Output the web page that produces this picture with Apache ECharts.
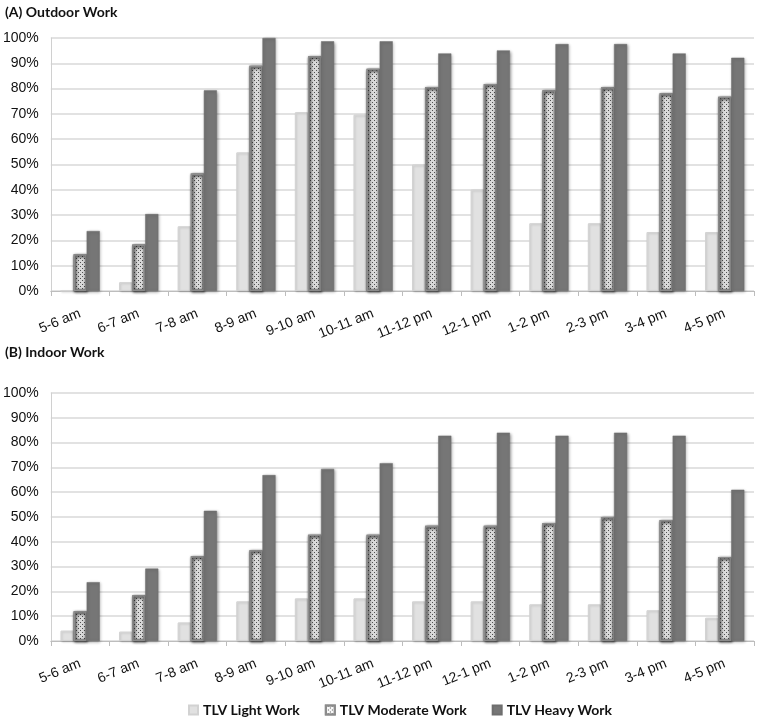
<!DOCTYPE html>
<html>
<head>
<meta charset="utf-8">
<style>html,body{margin:0;padding:0;background:#fff;}#c{width:757px;height:718px;}</style>
<script src="https://cdn.jsdelivr.net/npm/echarts@6/dist/echarts.min.js"></script>
</head>
<body>
<div id="c"></div>
<script>
const categories = ['5-6 am','6-7 am','7-8 am','8-9 am','9-10 am','10-11 am','11-12 pm','12-1 pm','1-2 pm','2-3 pm','3-4 pm','4-5 pm'];
const seriesNames = ['TLV Light Work','TLV Moderate Work','TLV Heavy Work'];
const yTicks = [0,10,20,30,40,50,60,70,80,90,100];
// (A) Outdoor Work, percent
const outdoorLight    = [0, 3.5, 25.6, 54.8, 70.7, 69.7, 50.0, 40.1, 26.8, 26.8, 23.3, 23.3];
const outdoorModerate = [14.5, 18.4, 46.4, 89.0, 92.8, 87.8, 80.6, 81.8, 79.3, 80.5, 78.2, 76.8];
const outdoorHeavy    = [23.7, 30.4, 79.3, 100, 98.7, 98.7, 93.9, 95.1, 97.6, 97.6, 93.9, 92.2];
// (B) Indoor Work, percent
const indoorLight     = [4.2, 3.8, 7.5, 16.0, 17.2, 17.2, 16.0, 16.0, 14.8, 14.8, 12.4, 9.4];
const indoorModerate  = [12.0, 18.4, 34.2, 36.6, 42.8, 42.8, 46.5, 46.5, 47.6, 50.0, 48.8, 33.9];
const indoorHeavy     = [23.7, 29.2, 52.5, 66.9, 69.4, 71.7, 82.8, 84.0, 82.8, 84.0, 82.8, 61.0];

const styles = [
  {color:'#e1e1e1', borderColor:'#d2d2d2', borderWidth:1,
   shadowBlur:2, shadowColor:'rgba(0,0,0,0.15)', shadowOffsetX:1, shadowOffsetY:1},
  {color:'#f8f8f8', borderColor:'#8c8c8c', borderWidth:1.5,
   shadowBlur:3, shadowColor:'rgba(0,0,0,0.35)', shadowOffsetX:1, shadowOffsetY:1,
   decal:{symbol:'rect', symbolSize:1, color:'#505050',
          dashArrayX:[[1,3],[0,2,1,1]], dashArrayY:[1,1]}},
  {color:'#767676', borderColor:'#6e6e6e', borderWidth:0.5,
   shadowBlur:3, shadowColor:'rgba(0,0,0,0.35)', shadowOffsetX:1, shadowOffsetY:1}
];

function xAxis(gi){
  return {type:'category', gridIndex:gi, data:categories,
    axisLine:{show:true, lineStyle:{color:'#bdbdbd', width:1}},
    axisTick:{show:true, length:5, lineStyle:{color:'#bdbdbd'}},
    axisLabel:{rotate:22, margin:22, fontSize:14, color:'#111', fontFamily:'Liberation Sans'}};
}
function yAxis(gi){
  return {type:'value', gridIndex:gi, min:0, max:100, interval:10,
    axisLine:{show:true, lineStyle:{color:'#d0d0d0', width:1}},
    axisTick:{show:false},
    splitLine:{lineStyle:{color:'#d9d9d9', width:1.5}},
    axisLabel:{formatter:v=>yTicks.includes(v)?v+'%':'', margin:12, fontSize:14, color:'#111', fontFamily:'Liberation Sans'}};
}
function mk(name, data, gi, i){
  return {type:'bar', name:name, data:data, xAxisIndex:gi, yAxisIndex:gi,
    barGap:'0%', barCategoryGap:'33%', itemStyle:styles[i]};
}

const chart = echarts.init(document.getElementById('c'), null, {renderer:'canvas'});
chart.setOption({
  animation:false,
  backgroundColor:'#fff',
  title:[
    {text:'(A) Outdoor Work', left:0, top:0, textStyle:{fontFamily:'Lato', fontWeight:'bold', fontSize:14, color:'#111'}},
    {text:'(B) Indoor Work', left:0, top:340, textStyle:{fontFamily:'Lato', fontWeight:'bold', fontSize:14, color:'#111'}}
  ],
  legend:{data:seriesNames, top:698, left:183, itemWidth:9, itemHeight:9, itemGap:25,
    icon:'rect',
    textStyle:{fontFamily:'Lato', fontWeight:'bold', fontSize:14, color:'#111'}},
  grid:[
    {left:50, right:3, top:38, bottom:427},
    {left:50, right:3, top:393, bottom:77}
  ],
  xAxis:[xAxis(0), xAxis(1)],
  yAxis:[yAxis(0), yAxis(1)],
  series:[
    mk(seriesNames[0], outdoorLight, 0, 0),
    mk(seriesNames[1], outdoorModerate, 0, 1),
    mk(seriesNames[2], outdoorHeavy, 0, 2),
    mk(seriesNames[0], indoorLight, 1, 0),
    mk(seriesNames[1], indoorModerate, 1, 1),
    mk(seriesNames[2], indoorHeavy, 1, 2)
  ]
});
</script>
</body>
</html>
